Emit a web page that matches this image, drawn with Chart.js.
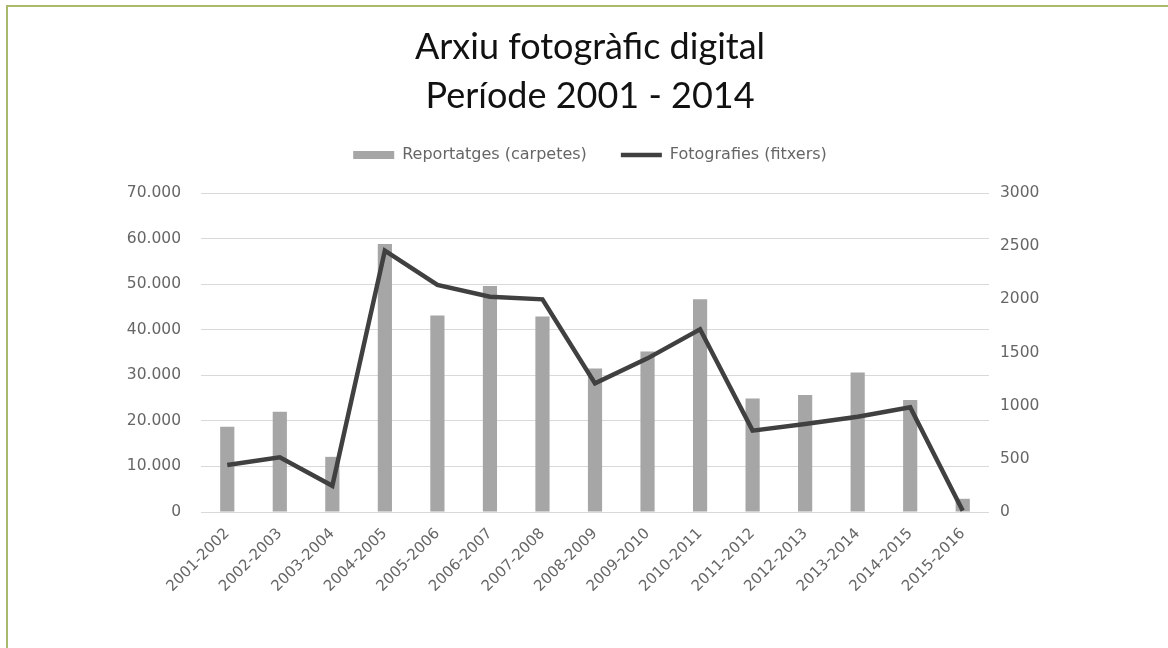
<!DOCTYPE html>
<html>
<head>
<meta charset="utf-8">
<script src="https://cdn.jsdelivr.net/npm/chart.js@4.4.1/dist/chart.umd.min.js"></script>
<style>
  body { margin: 0; background: #fff; }
  #frame {
    position: absolute; left: 6px; top: 5px; width: 1162px; height: 643px;
    border-top: 2px solid #a9ba6d; border-left: 2px solid #a9ba6d;
  }
  #c { position: absolute; left: 0; top: 0; }
</style>
</head>
<body>
<div id="frame"></div>
<canvas id="c" width="1168" height="648"></canvas>
<script>
// Cursos
const labels = [
    '2001-2002', '2002-2003', '2003-2004', '2004-2005', '2005-2006',
    '2006-2007', '2007-2008', '2008-2009', '2009-2010', '2010-2011',
    '2011-2012', '2012-2013', '2013-2014', '2014-2015', '2015-2016'
];
// barres, eix esquerre
const reportatges = [18700, 22000, 12100, 58800, 43100, 49600, 42900, 31500,
    35200, 46700, 24900, 25700, 30600, 24600, 2900];
// línia, eix dret
const fotografies = [442, 514, 247, 2458, 2135, 2025, 2000, 1210,
    1445, 1718, 765, 828, 896, 985, 12];

const leftTicks = [0, 10000, 20000, 30000, 40000, 50000, 60000, 70000];
const rightTicks = [0, 500, 1000, 1500, 2000, 2500, 3000];

const TITLE_FONT = 'Lato, "Liberation Sans", sans-serif';
const FONT = '"DejaVu Sans", sans-serif';
const tickColor = '#666666';

const data = {
    labels: labels,
    datasets: [{
        type: 'bar',
        label: 'Reportatges (carpetes)',
        data: reportatges,
        backgroundColor: '#a6a6a6',
        borderWidth: 0,
        barPercentage: 0.27,
        categoryPercentage: 1,
        pointStyle: 'rect',
        yAxisID: 'y',
        order: 1
    }, {
        type: 'line',
        label: 'Fotografies (fitxers)',
        data: fotografies,
        borderColor: '#404040',
        backgroundColor: '#404040',
        borderWidth: 4.5,
        pointRadius: 0,
        pointStyle: 'line',
        tension: 0,
        yAxisID: 'y1',
        order: 0
    }]
};

const config = {
    type: 'bar',
    data,
    options: {
        responsive: false,
        animation: false,
        layout: { padding: { top: 23, left: 12, right: 0, bottom: 0 } },
        plugins: {
            tooltip: { enabled: false },
            title: {
                display: true,
                text: ['Arxiu fotogràfic digital', 'Període 2001 - 2014'],
                color: '#111',
                font: { family: TITLE_FONT, size: 36, weight: 'normal', lineHeight: 1.35 },
                padding: { top: 0, bottom: -7.2 }
            },
            // espai buit entre la llegenda i el gràfic
            subtitle: {
                display: true,
                text: ' ',
                weight: 500,
                font: { size: 1, lineHeight: 1 },
                padding: { top: 0, bottom: 19 }
            },
            legend: {
                reverse: true,
                labels: {
                    color: tickColor,
                    font: { family: FONT, size: 16 },
                    usePointStyle: true,
                    pointStyleWidth: 41,
                    boxWidth: 41,
                    boxHeight: 8,
                    padding: 34
                }
            }
        },
        scales: {
            x: {
                grid: { display: false },
                border: { display: false },
                ticks: {
                    color: tickColor,
                    font: { family: FONT, size: 15 },
                    maxRotation: 45,
                    minRotation: 45,
                    padding: 5
                },
                afterFit: (s) => { s.height = 136; }
            },
            y: {
                position: 'left',
                min: 0,
                max: 70000,
                afterBuildTicks: (s) => { s.ticks = leftTicks.map(v => ({ value: v })); },
                grid: { color: '#d9d9d9', drawTicks: false, lineWidth: 1 },
                border: { display: false },
                ticks: {
                    color: tickColor,
                    font: { family: FONT, size: 15.5 },
                    padding: 20,
                    callback: (v) => v.toLocaleString('de-DE')
                },
                afterFit: (s) => { s.width = 189; }
            },
            y1: {
                position: 'right',
                min: 0,
                max: 3000,
                afterBuildTicks: (s) => { s.ticks = rightTicks.map(v => ({ value: v })); },
                grid: { display: false, drawTicks: false },
                border: { display: false },
                ticks: {
                    color: tickColor,
                    font: { family: FONT, size: 15.5 },
                    padding: 11,
                    callback: (v) => String(v)
                },
                afterFit: (s) => { s.width = 179; }
            }
        }
    }
};

const myChart = new Chart(document.getElementById('c'), config);
</script>
</body>
</html>
